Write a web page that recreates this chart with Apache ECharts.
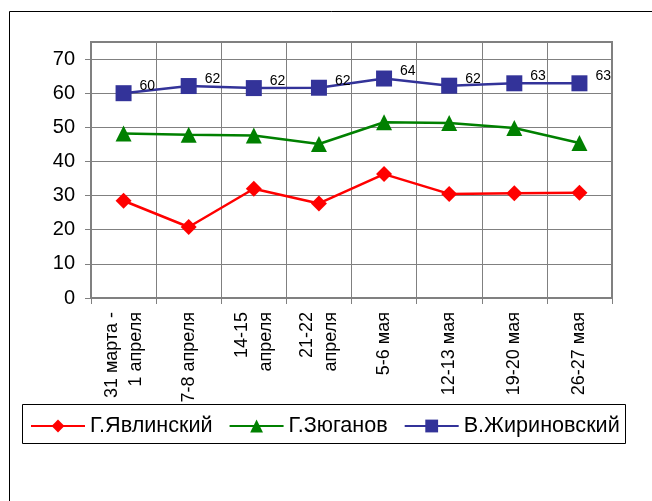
<!DOCTYPE html>
<html>
<head>
<meta charset="utf-8">
<script src="https://cdn.jsdelivr.net/npm/echarts@6/dist/echarts.min.js"></script>
<style>
  html, body { margin: 0; padding: 0; background: #fff; }
  #main { width: 652px; height: 501px; }
</style>
</head>
<body>
<div id="main"></div>
<script>
const categories = ['31 марта -\n1 апреля', '7-8 апреля', '14-15\nапреля', '21-22\nапреля',
    '5-6 мая', '12-13 мая', '19-20 мая', '26-27 мая'];
const yavlinsky = [28.5, 20.8, 32.0, 27.7, 36.3, 30.5, 30.7, 30.8];
const zyuganov = [48.2, 47.8, 47.6, 45.1, 51.5, 51.3, 49.8, 45.4];
const zhirinovsky = [60.0, 62.1, 61.5, 61.6, 64.3, 62.2, 62.9, 62.9];

var chart = echarts.init(document.getElementById('main'));
var font = 'Arial, "Liberation Sans", sans-serif';

var option = {
    animation: false,
    backgroundColor: '#fff',
    graphic: [
        {
            type: 'rect',
            shape: { x: 9.5, y: 11.5, width: 700, height: 600 },
            style: { fill: 'none', stroke: '#000', lineWidth: 1 },
            z: -1
        },
        {
            type: 'rect',
            shape: { x: 22.5, y: 404.5, width: 603, height: 39 },
            style: { fill: '#fff', stroke: '#000', lineWidth: 1 },
            z: -1
        }
    ],
    grid: {
        left: 91, right: 40, top: 42, bottom: 203,
        show: true,
        borderColor: '#808080',
        borderWidth: 2,
        backgroundColor: '#fff'
    },
    legend: {
        left: 30,
        top: 415,
        padding: 0,
        itemWidth: 54,
        itemHeight: 16,
        itemGap: 16,
        textStyle: { fontFamily: font, fontSize: 21.6, color: '#000' },
        data: ['Г.Явлинский', 'Г.Зюганов', 'В.Жириновский']
    },
    xAxis: {
        type: 'category',
        data: categories,
        boundaryGap: true,
        axisLine: { lineStyle: { color: '#808080', width: 2 } },
        axisTick: { show: true, length: 6, lineStyle: { color: '#808080' } },
        splitLine: { show: true, lineStyle: { color: '#808080', width: 1 } },
        axisLabel: {
            rotate: 90,
            interval: 0,
            margin: 14,
            fontFamily: font,
            fontSize: 18,
            color: '#000',
            lineHeight: 24
        }
    },
    yAxis: {
        type: 'value',
        min: 0,
        max: 75,
        interval: 10,
        axisLine: { show: true, lineStyle: { color: '#808080', width: 2 } },
        axisTick: { show: true, length: 6, lineStyle: { color: '#808080' } },
        splitLine: { show: true, lineStyle: { color: '#808080', width: 1 } },
        axisLabel: {
            showMaxLabel: false,
            margin: 16,
            fontFamily: font,
            fontSize: 20,
            color: '#000'
        }
    },
    series: [
        {
            name: 'Г.Явлинский',
            type: 'line',
            data: yavlinsky,
            symbol: 'diamond',
            symbolSize: 16,
            color: '#ff0000',
            lineStyle: { width: 2.5, color: '#ff0000' },
            itemStyle: { color: '#ff0000' }
        },
        {
            name: 'Г.Зюганов',
            type: 'line',
            data: zyuganov,
            symbol: 'triangle',
            symbolSize: 16,
            color: '#008000',
            lineStyle: { width: 2.5, color: '#008000' },
            itemStyle: { color: '#008000' }
        },
        {
            name: 'В.Жириновский',
            type: 'line',
            data: zhirinovsky,
            symbol: 'rect',
            symbolSize: 16,
            color: '#333399',
            lineStyle: { width: 2.5, color: '#333399' },
            itemStyle: { color: '#333399' },
            label: {
                show: true,
                position: 'right',
                distance: 8,
                offset: [0, -7],
                fontFamily: font,
                fontSize: 14,
                color: '#000',
                formatter: function (p) { return Math.round(p.value); }
            }
        }
    ]
};
option && chart.setOption(option);
</script>
</body>
</html>
